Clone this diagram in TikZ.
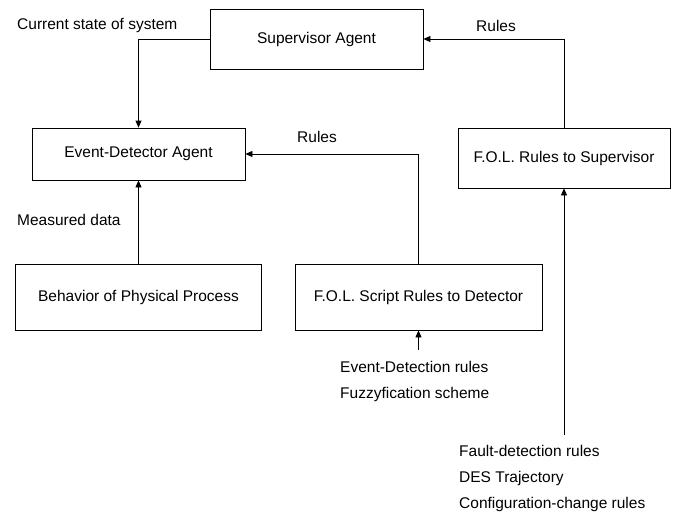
\documentclass[tikz,border=0pt]{standalone}
\usepackage{fontspec}
\setmainfont{Liberation Sans}
\usetikzlibrary{arrows.meta}
\begin{document}
\begin{tikzpicture}[x=1pt,y=1pt,
  box/.style={draw, line width=0.8pt, rectangle, inner sep=0pt, font=\fontsize{15.5}{18}\selectfont},
  lbl/.style={anchor=west, inner sep=0pt, font=\fontsize{15.5}{18}\selectfont},
  conn/.style={line width=0.8pt, -{Triangle[length=7pt,width=6pt]}}]
\useasboundingbox (0,0) rectangle (673,-514);
\node[box, minimum width=213pt, minimum height=60pt] (sup) at (316.5,-39) {Supervisor Agent};
\node[box, minimum width=213pt, minimum height=52pt] (ed) at (138.5,-154) {Event-Detector Agent};
\node[box, minimum width=212pt, minimum height=60pt] (fsup) at (564,-158) {F.O.L. Rules to Supervisor};
\node[box, minimum width=246pt, minimum height=66pt] (beh) at (138.5,-297) {Behavior of Physical Process};
\node[box, minimum width=247pt, minimum height=66pt] (fscr) at (418.5,-297) {F.O.L. Script Rules to Detector};
\node[lbl] (l1) at (17,-26) {Current state of system};
\node[lbl] (l2) at (476,-26) {Rules};
\node[lbl] (l3) at (297,-137) {Rules};
\node[lbl] (l4) at (17,-220) {Measured data};
\node[lbl] (l5) at (340,-367) {Event-Detection rules};
\node[lbl] (l6) at (340,-394) {Fuzzyfication scheme};
\node[lbl] (l7) at (459,-451) {Fault-detection rules};
\node[lbl] (l8) at (459,-478) {DES Trajectory};
\node[lbl] (l9) at (459,-504) {Configuration-change rules};
\coordinate (c1) at (418.5,-350);
\coordinate (c2) at (564,-435);
\draw[conn] (sup.west) -| (ed.north);
\draw[conn] (fsup.north) |- (sup.east);
\draw[conn] (fscr.north) |- (ed.east);
\draw[conn] (beh.north) -- (ed.south);
\draw[conn] (c1) -- (fscr.south);
\draw[conn] (c2) -- (fsup.south);
\end{tikzpicture}
\end{document}
